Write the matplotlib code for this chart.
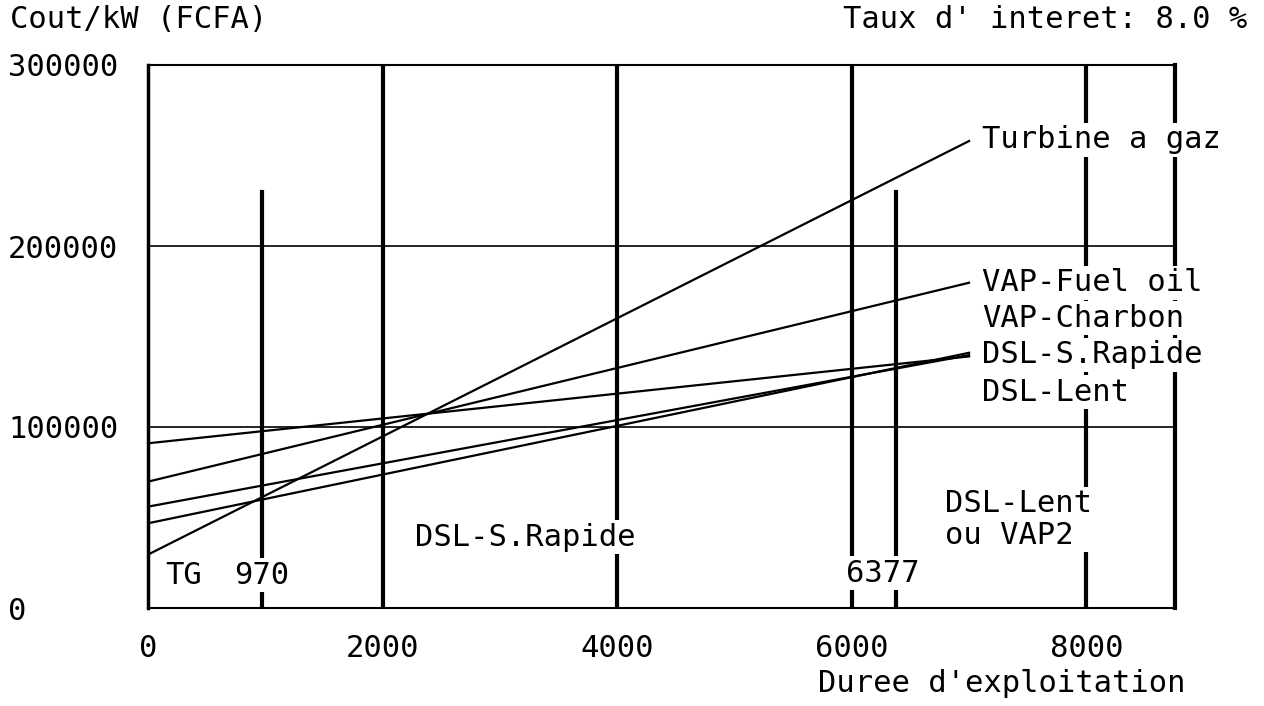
"""Courbes de tri : cout/kW en fonction de la duree d'exploitation (taux 8 %)."""
import matplotlib
matplotlib.use("Agg")
import matplotlib.pyplot as plt  # noqa: E402

FONT = "DejaVu Sans Mono"
FS = 22

# heures d'exploitation (debut / fin des courbes)
HOURS = [0, 7000]

SERIES_NAMES = ["Turbine a gaz", "VAP-Fuel oil", "VAP-Charbon", "DSL-S.Rapide", "DSL-Lent"]
TG_COST = [29500, 258000]
VAP_FUEL_COST = [69800, 179700]
VAP_CHARBON_COST = [91000, 139000]
DSL_RAPIDE_COST = [46800, 141000]
DSL_LENT_COST = [56000, 139700]
# position verticale des etiquettes a droite des courbes
LABEL_Y = [258600, 179600, 160200, 139800, 119300]

# lignes verticales
FULL_VLINES = [2000, 4000, 6000, 8000]
BREAK_POINTS = [970, 6377]
BREAK_TOP = 230000

X_TICKS = [0, 2000, 4000, 6000, 8000]
Y_TICKS = [0, 100000, 200000, 300000]
X_MAX = 8760
Y_MAX = 300000


def _txt(ax, x, y, s, **kw):
    ax.text(x, y, s, family=FONT, fontsize=FS, color="black",
            bbox=dict(facecolor="white", edgecolor="none", pad=1.5), zorder=5, **kw)


def main():
    fig = plt.figure(figsize=(12.64, 7.06), dpi=100)
    ax = fig.add_axes([148 / 1264, 98 / 706, 1027.5 / 1264, 543 / 706])
    ax.set_xlim(0, X_MAX)
    ax.set_ylim(0, Y_MAX)

    # grille horizontale
    for y in Y_TICKS[1:-1]:
        ax.axhline(y, color="black", lw=1.2, zorder=1)

    for x in FULL_VLINES:
        ax.axvline(x, color="black", lw=3.0, zorder=2)
    for x in BREAK_POINTS:
        ax.plot([x, x], [0, BREAK_TOP], color="black", lw=3.0, zorder=2)

    costs = [TG_COST, VAP_FUEL_COST, VAP_CHARBON_COST, DSL_RAPIDE_COST, DSL_LENT_COST]
    for name, c, ly in zip(SERIES_NAMES, costs, LABEL_Y):
        ax.plot(HOURS, c, color="black", lw=1.6, zorder=3)
        _txt(ax, HOURS[-1] + 110, ly, name, ha="left", va="center")

    # zones
    _txt(ax, 145, 18200, "TG", ha="left", va="center")
    _txt(ax, BREAK_POINTS[0], 18200, str(BREAK_POINTS[0]), ha="center", va="center")
    _txt(ax, 2276, 39200, "DSL-S.Rapide", ha="left", va="center")
    _txt(ax, 6266, 19300, str(BREAK_POINTS[1]), ha="center", va="center")
    _txt(ax, 6795, 48900, "DSL-Lent\nou VAP2", ha="left", va="center", linespacing=1.1)

    for side in ["left", "right", "top", "bottom"]:
        ax.spines[side].set_color("black")
    ax.spines["left"].set_linewidth(2.5)
    ax.spines["right"].set_linewidth(3.0)
    ax.spines["top"].set_linewidth(1.5)
    ax.spines["bottom"].set_linewidth(1.5)

    ax.set_xticks(X_TICKS)
    ax.set_xticklabels([str(v) for v in X_TICKS], family=FONT, fontsize=FS)
    ax.set_yticks(Y_TICKS)
    ax.set_yticklabels([str(v) for v in Y_TICKS], family=FONT, fontsize=FS)
    ax.tick_params(axis="x", length=0, pad=19)
    ax.tick_params(axis="y", length=0, pad=100.8)
    for lab in ax.get_yticklabels():
        lab.set_ha("left")

    fig.text(10 / 1264, 1 - 20 / 706, "Cout/kW (FCFA)", family=FONT, fontsize=FS,
             ha="left", va="center")
    fig.text(1247 / 1264, 1 - 20 / 706, "Taux d' interet: 8.0 %", family=FONT, fontsize=FS,
             ha="right", va="center")
    fig.text(1185 / 1264, 1 - 684 / 706, "Duree d'exploitation", family=FONT, fontsize=FS,
             ha="right", va="center")

    fig.savefig("out.png", dpi=100, facecolor="white")
    plt.close(fig)


if __name__ == "__main__":
    main()
